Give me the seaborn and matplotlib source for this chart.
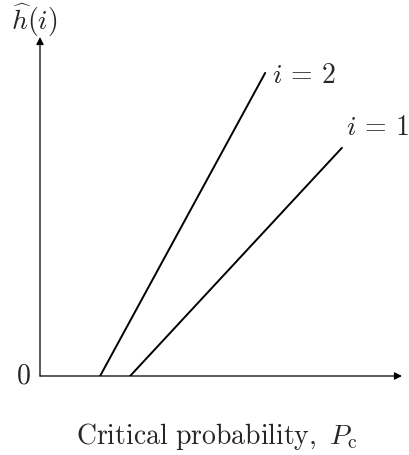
import numpy as np
import pandas as pd
import seaborn as sns
import matplotlib
matplotlib.use("Agg")
import matplotlib.pyplot as plt

sns.set_theme(style="white")
plt.rcParams["mathtext.fontset"] = "cm"
plt.rcParams["font.family"] = ["DejaVu Serif"]

# Schematic lines: critical probability vs. estimated h(i)
series = ["i = 1", "i = 1", "i = 2", "i = 2"]
pc = [0.249, 0.834, 0.166, 0.622]
h_hat = [0.0, 0.673, 0.0, 0.894]

df = pd.DataFrame({"series": series, "pc": pc, "h": h_hat})

FS = 20

fig = plt.figure(figsize=(4.10, 4.55), dpi=100)
ax = fig.add_axes([40 / 410, 1 - 376 / 455, 362 / 410, 339 / 455])

sns.lineplot(data=df, x="pc", y="h", hue="series", units="series",
             estimator=None, palette=["black", "black"], linewidth=1.4,
             legend=False, ax=ax)

ax.set_xlim(0, 1)
ax.set_ylim(0, 1)
for s in ax.spines.values():
    s.set_visible(False)
ax.set_xticks([])
ax.set_yticks([])
ax.set_xlabel("")
ax.set_ylabel("")

# Axes drawn as arrows
arrow = dict(arrowstyle="-|>", color="black", lw=0.9, mutation_scale=11,
             shrinkA=0, shrinkB=0)
ax.annotate("", xy=(1.0, 0), xytext=(0, 0), xycoords="axes fraction",
            arrowprops=arrow, annotation_clip=False)
ax.annotate("", xy=(0, 1.0), xytext=(0, 0), xycoords="axes fraction",
            arrowprops=arrow, annotation_clip=False)

# Line labels at the upper ends (offsets in points)
offsets = {"i = 2": (5, -7), "i = 1": (3, 9)}
for name, (ox, oy) in offsets.items():
    sub = df[df["series"] == name]
    x_end, y_end = sub["pc"].max(), sub["h"].max()
    num = name.split("=")[1].strip()
    ax.annotate(r"$i\,=\,%s$" % num, xy=(x_end, y_end),
                xytext=(ox, oy), textcoords="offset points",
                fontsize=FS, ha="left", va="baseline",
                annotation_clip=False)

ax.text(-0.045, 0, r"$0$", fontsize=FS, ha="center", va="center")
fig.text(34 / 410, 1 - 20 / 455, r"$\widehat{h}(i)$", fontsize=FS,
         ha="center", va="center")
fig.text(217 / 410, 1 - 437 / 455,
         r"$\mathrm{Critical\ probability,}\ P_{\mathrm{c}}$",
         fontsize=FS, ha="center", va="center")

fig.savefig("out.png", dpi=100)
